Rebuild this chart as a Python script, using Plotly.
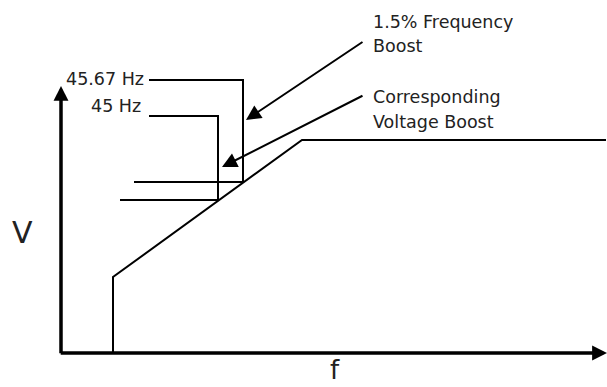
import plotly.graph_objects as go

# V/f characteristic (schematic units: f to the right, V upward)
vf_f = [52, 52, 241, 545]
vf_v = [0, 76, 213, 213]

# Operating points: base frequency and boosted frequency
base_label = "45 Hz"
boost_label = "45.67 Hz"
base_f, base_v = 157, 153
boost_f, boost_v = 182, 171
base_tag_v, boost_tag_v = 237, 273      # height of the frequency call-out lines
tag_start_f = 88                          # where the call-out lines begin
base_hline_start, boost_hline_start = 59, 73

# Callout texts
freq_note = ["1.5% Frequency", "Boost"]
volt_note = ["Corresponding", "Voltage Boost"]

FONT = "DejaVu Sans"
TXT = "#222222"
LW = 2

fig = go.Figure()

def line(xs, ys, w=LW):
    fig.add_trace(go.Scatter(x=xs, y=ys, mode="lines",
                             line=dict(color="black", width=w),
                             hoverinfo="skip", showlegend=False))

# main V/f curve
line(vf_f, vf_v)

# frequency call-out brackets
line([tag_start_f, boost_f, boost_f], [boost_tag_v, boost_tag_v, boost_v])
line([tag_start_f, base_f, base_f], [base_tag_v, base_tag_v, base_v])

# voltage levels at the two frequencies
line([boost_hline_start, boost_f], [boost_v, boost_v])
line([base_hline_start, base_f], [base_v, base_v])

annotations = []

def arrow(x, y, ax, ay, w, size):
    annotations.append(dict(x=x, y=y, ax=ax, ay=ay, xref="x", yref="y",
                            axref="x", ayref="y", text="", showarrow=True,
                            arrowhead=2, arrowwidth=w, arrowsize=size,
                            arrowcolor="black", standoff=0, startstandoff=0))

# axes with arrow heads
arrow(546, 0, -1.8, 0, 3.5, 0.85)
arrow(0, 267, 0, -1.8, 3.5, 0.85)

# pointer arrows from the notes
arrow(185, 233, 303, 312, 2, 1.5)
arrow(161, 186, 303, 258, 2, 1.5)

def text(x, y, s, anchor, size=17.5, yanchor="middle"):
    annotations.append(dict(x=x, y=y, xref="x", yref="y", text=s,
                            showarrow=False, xanchor=anchor, yanchor=yanchor,
                            font=dict(family=FONT, size=size, color=TXT)))

text(85, 274, boost_label, "right")
text(82, 247, base_label, "right")
text(310, 331, freq_note[0], "left")
text(310, 307, freq_note[1], "left")
text(310, 256, volt_note[0], "left")
text(310, 231, volt_note[1], "left")

# axis names
text(-39, 121, "V", "center", size=30)
text(274, -34, "f", "center", size=26, yanchor="bottom")

fig.update_layout(
    width=607, height=387,
    margin=dict(l=0, r=0, t=0, b=0),
    paper_bgcolor="white", plot_bgcolor="white",
    xaxis=dict(range=[-61, 546], visible=False, fixedrange=True),
    yaxis=dict(range=[-34, 353], visible=False, fixedrange=True),
    annotations=annotations,
    showlegend=False,
)

fig.write_html("out.html")
